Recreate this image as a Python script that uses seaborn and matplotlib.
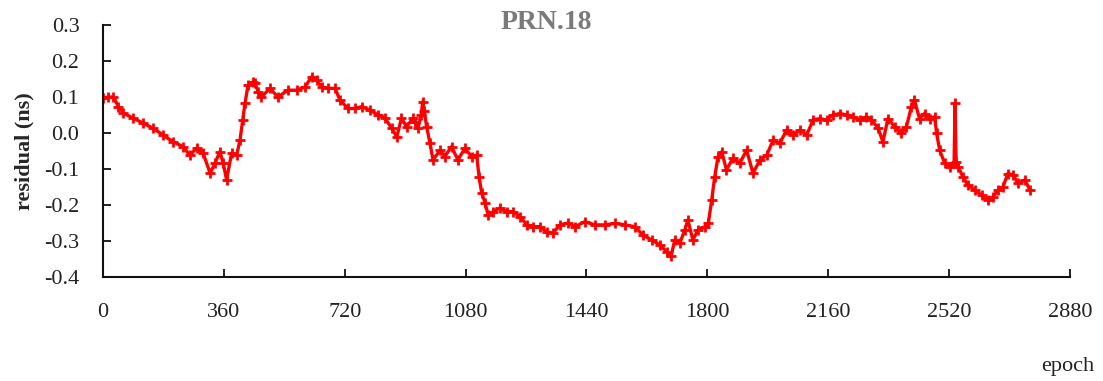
import matplotlib
matplotlib.use("Agg")
import matplotlib.pyplot as plt
import seaborn as sns
import pandas as pd

# Clock residuals of satellite PRN 18 per epoch (ns)
epoch = [0, 15, 31, 46, 61, 90, 120, 149, 179, 209, 238, 259, 279, 298, 319, 334, 348, 358,
         368, 383, 398, 408, 416, 423, 432, 447, 453, 462, 472, 497, 521, 551, 577, 602, 621,
         636, 651, 671, 691, 706, 730, 750, 770, 795, 819, 840, 860, 875, 889, 904, 923, 929,
         938, 948, 952, 957, 964, 974, 983, 1004, 1018, 1038, 1057, 1078, 1098, 1113, 1120,
         1128, 1138, 1147, 1162, 1182, 1202, 1221, 1242, 1262, 1281, 1301, 1321, 1340, 1361,
         1385, 1406, 1435, 1465, 1495, 1525, 1554, 1584, 1608, 1634, 1659, 1679, 1692, 1703,
         1718, 1733, 1742, 1757, 1772, 1793, 1803, 1813, 1822, 1832, 1843, 1857, 1876, 1897,
         1917, 1936, 1957, 1977, 1996, 2016, 2036, 2055, 2076, 2096, 2115, 2135, 2155, 2174,
         2195, 2215, 2234, 2254, 2274, 2289, 2309, 2323, 2338, 2358, 2378, 2393, 2408, 2417,
         2432, 2447, 2463, 2477, 2483, 2492, 2507, 2522, 2535, 2538, 2541, 2547, 2561, 2576,
         2597, 2617, 2636, 2651, 2666, 2681, 2695, 2711, 2725, 2746, 2761]
residual = [0.096, 0.100, 0.100, 0.073, 0.055, 0.041, 0.027, 0.013, -0.006, -0.025, -0.038,
            -0.062, -0.042, -0.056, -0.112, -0.084, -0.052, -0.084, -0.131, -0.056, -0.062,
            -0.020, 0.036, 0.083, 0.133, 0.142, 0.138, 0.115, 0.100, 0.124, 0.100, 0.119,
            0.119, 0.128, 0.156, 0.147, 0.128, 0.124, 0.124, 0.091, 0.068, 0.068, 0.073,
            0.064, 0.050, 0.041, 0.013, -0.011, 0.041, 0.017, 0.041, 0.031, 0.013, 0.050,
            0.087, 0.060, 0.017, -0.029, -0.075, -0.048, -0.066, -0.038, -0.075, -0.043,
            -0.066, -0.062, -0.122, -0.167, -0.195, -0.228, -0.219, -0.209, -0.219, -0.219,
            -0.233, -0.256, -0.261, -0.261, -0.275, -0.279, -0.256, -0.251, -0.261, -0.247,
            -0.256, -0.256, -0.252, -0.256, -0.261, -0.284, -0.298, -0.312, -0.331, -0.344,
            -0.298, -0.307, -0.270, -0.242, -0.298, -0.270, -0.261, -0.251, -0.187, -0.122,
            -0.066, -0.052, -0.103, -0.071, -0.084, -0.048, -0.112, -0.075, -0.062, -0.020,
            -0.029, 0.008, -0.006, 0.008, -0.006, 0.036, 0.040, 0.036, 0.050, 0.054, 0.050,
            0.045, 0.036, 0.045, 0.036, 0.013, -0.025, 0.040, 0.017, -0.001, 0.017, 0.073,
            0.091, 0.040, 0.054, 0.040, 0.045, -0.001, -0.048, -0.084, -0.094, -0.084, 0.082,
            -0.080, -0.094, -0.122, -0.145, -0.159, -0.173, -0.187, -0.178, -0.159, -0.150,
            -0.113, -0.117, -0.140, -0.131, -0.159]

x_ticks = [0, 360, 720, 1080, 1440, 1800, 2160, 2520, 2880]
y_ticks = [-0.4, -0.3, -0.2, -0.1, 0.0, 0.1, 0.2, 0.3]
y_tick_labels = ["-0.4", "-0.3", "-0.2", "-0.1", "0.0", "0.1", "0.2", "0.3"]

sns.set_style("ticks")
plt.rcParams["font.family"] = ["Liberation Serif", "DejaVu Serif"]

df = pd.DataFrame({"epoch": epoch, "residual": residual})

fig = plt.figure(figsize=(11.03, 3.81), dpi=100)
ax = fig.add_axes([0.0934, 0.274, 0.8766, 0.660])

sns.lineplot(data=df, x="epoch", y="residual", ax=ax, color="#ff0000",
             linewidth=2.4, marker="+", markersize=7, markeredgewidth=2.0,
             markeredgecolor="#ff0000", sort=False)

ax.set_xlim(0, 2880)
ax.set_ylim(-0.4, 0.3)
ax.set_xticks(x_ticks)
ax.set_yticks(y_ticks)
ax.set_yticklabels(y_tick_labels)

for side in ("top", "right"):
    ax.spines[side].set_visible(False)
for side in ("left", "bottom"):
    ax.spines[side].set_linewidth(1.5)
    ax.spines[side].set_color("#111111")

ax.tick_params(axis="both", direction="in", length=6, width=1.3, colors="#111111",
               labelsize=16, labelcolor="#222222")
ax.tick_params(axis="y", pad=17)
ax.tick_params(axis="x", pad=19)

ax.set_xlabel("")
ax.set_ylabel("residual (ns)", fontsize=16, fontweight="bold", labelpad=14)
ax.yaxis.set_label_coords(-0.071, 0.5)

fig.text(0.495, 0.942, "PRN.18", ha="center", va="center", fontsize=20,
         fontweight="bold", color="#7a7a7a")
fig.text(0.968, 0.037, "epoch", ha="center", va="center", fontsize=16, color="#222222")

fig.savefig("out.png", dpi=100, facecolor="white")
